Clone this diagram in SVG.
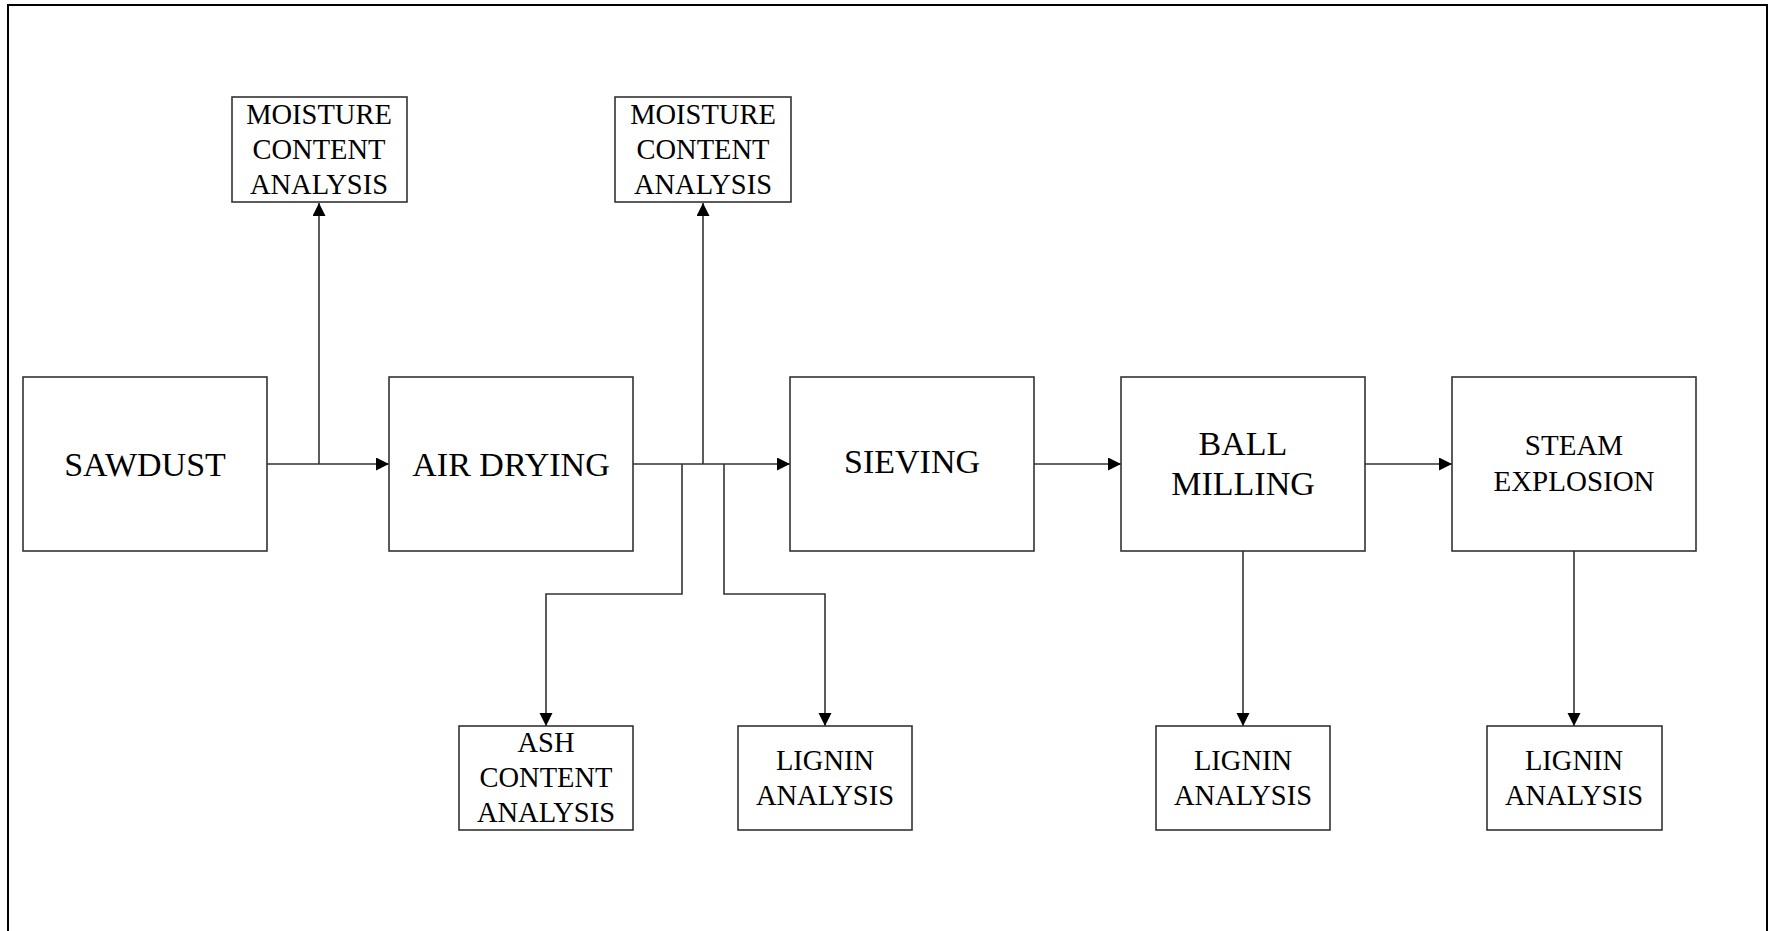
<svg xmlns="http://www.w3.org/2000/svg" width="1769" height="931" viewBox="0 0 1769 931">
  <style>
    .box { fill: #ffffff; stroke: #333333; stroke-width: 1.6; }
    .frame { fill: none; stroke: #000000; stroke-width: 2; }
    .wire { fill: none; stroke: #333333; stroke-width: 1.6; }
    .big { font-family: "Liberation Serif", "Times New Roman", serif; font-size: 34px; fill: #000; text-anchor: middle; }
    .med { font-family: "Liberation Serif", "Times New Roman", serif; font-size: 29px; fill: #000; text-anchor: middle; }
    .small { font-family: "Liberation Serif", "Times New Roman", serif; font-size: 28.5px; fill: #000; text-anchor: middle; }
  </style>
  <defs>
    <marker id="arrow" markerUnits="userSpaceOnUse" markerWidth="14" markerHeight="14" refX="13" refY="6.5" orient="auto">
      <path d="M0,0 L13,6.5 L0,13 Z" fill="#000"/>
    </marker>
  </defs>

  <rect width="1769" height="931" fill="#ffffff"/>
  <rect class="frame" x="8" y="5" width="1759" height="932"/>

  <!-- connectors -->
  <g id="connectors">
    <line class="wire" x1="267" y1="464" x2="389" y2="464" marker-end="url(#arrow)"/>
    <line class="wire" x1="319" y1="464" x2="319" y2="203" marker-end="url(#arrow)"/>
    <line class="wire" x1="633" y1="464" x2="790" y2="464" marker-end="url(#arrow)"/>
    <line class="wire" x1="703" y1="464" x2="703" y2="203" marker-end="url(#arrow)"/>
    <polyline class="wire" points="682,464 682,594 546,594 546,726" marker-end="url(#arrow)"/>
    <polyline class="wire" points="724,464 724,594 825,594 825,726" marker-end="url(#arrow)"/>
    <line class="wire" x1="1034" y1="464" x2="1121" y2="464" marker-end="url(#arrow)"/>
    <line class="wire" x1="1365" y1="464" x2="1452" y2="464" marker-end="url(#arrow)"/>
    <line class="wire" x1="1243" y1="551" x2="1243" y2="726" marker-end="url(#arrow)"/>
    <line class="wire" x1="1574" y1="551" x2="1574" y2="726" marker-end="url(#arrow)"/>
  </g>

  <!-- main process steps -->
  <g id="sawdust">
    <rect class="box" x="23" y="377" width="244" height="174"/>
    <text class="big" x="145" y="476">SAWDUST</text>
  </g>
  <g id="air-drying">
    <rect class="box" x="389" y="377" width="244" height="174"/>
    <text class="big" x="511" y="476">AIR DRYING</text>
  </g>
  <g id="sieving">
    <rect class="box" x="790" y="377" width="244" height="174"/>
    <text class="big" x="912" y="473">SIEVING</text>
  </g>
  <g id="ball-milling">
    <rect class="box" x="1121" y="377" width="244" height="174"/>
    <text class="big" x="1243" y="455">BALL</text>
    <text class="big" x="1243" y="495">MILLING</text>
  </g>
  <g id="steam-explosion">
    <rect class="box" x="1452" y="377" width="244" height="174"/>
    <text class="med" x="1574" y="455">STEAM</text>
    <text class="med" x="1574" y="491">EXPLOSION</text>
  </g>

  <!-- analyses -->
  <g id="moisture-1">
    <rect class="box" x="232" y="97" width="175" height="105"/>
    <text class="small" x="319" y="124">MOISTURE</text>
    <text class="small" x="319" y="159">CONTENT</text>
    <text class="small" x="319" y="194">ANALYSIS</text>
  </g>
  <g id="moisture-2">
    <rect class="box" x="615" y="97" width="176" height="105"/>
    <text class="small" x="703" y="124">MOISTURE</text>
    <text class="small" x="703" y="159">CONTENT</text>
    <text class="small" x="703" y="194">ANALYSIS</text>
  </g>
  <g id="ash-content">
    <rect class="box" x="459" y="726" width="174" height="104"/>
    <text class="small" x="546" y="752">ASH</text>
    <text class="small" x="546" y="787">CONTENT</text>
    <text class="small" x="546" y="822">ANALYSIS</text>
  </g>
  <g id="lignin-1">
    <rect class="box" x="738" y="726" width="174" height="104"/>
    <text class="small" x="825" y="770">LIGNIN</text>
    <text class="small" x="825" y="805">ANALYSIS</text>
  </g>
  <g id="lignin-2">
    <rect class="box" x="1156" y="726" width="174" height="104"/>
    <text class="small" x="1243" y="770">LIGNIN</text>
    <text class="small" x="1243" y="805">ANALYSIS</text>
  </g>
  <g id="lignin-3">
    <rect class="box" x="1487" y="726" width="175" height="104"/>
    <text class="small" x="1574" y="770">LIGNIN</text>
    <text class="small" x="1574" y="805">ANALYSIS</text>
  </g>
</svg>
